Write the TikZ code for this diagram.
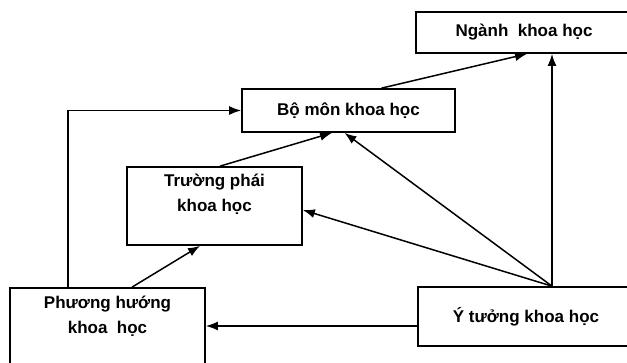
\documentclass[tikz,border=0pt]{standalone}
\usepackage{fontspec}
\setmainfont{Liberation Sans}
\usetikzlibrary{arrows.meta}

\begin{document}
\begin{tikzpicture}[
    x=1pt, y=-1pt,
    >={Latex[length=12pt,width=9pt]},
    every node/.style={font=\fontsize{17}{25}\selectfont\bfseries},
    box/.style={draw, line width=1.7pt, rectangle, align=center, inner sep=0pt},
    link/.style={line width=1.5pt}
]
\useasboundingbox (0,0) rectangle (627,362);
\clip (0,0) rectangle (627,362);

\node[box, minimum width=216pt, minimum height=41pt] (nganh) at (524,32.5) {Ngành\ \ khoa học};
\node[box, minimum width=213pt, minimum height=43pt] (bomon) at (348.5,110.5) {Bộ môn khoa học};
\node[box, minimum width=175pt, minimum height=78pt] (truong) at (214.5,206) {Trường phái\\khoa học\\[2pt]\mbox{}};
\node[box, minimum width=195pt, minimum height=104pt] (phuong) at (107.5,340) {Phương hướng\\khoa\ \ học\\[26pt]\mbox{}};
\node[box, minimum width=216pt, minimum height=59pt] (ytuong) at (526,316.5) {Ý tưởng khoa học};

\coordinate (apex) at ([xshift=26pt]ytuong.north);

\path[->, link]
([xshift=33pt]bomon.north) edge ([xshift=3pt]nganh.south)
(apex) edge (apex |- nganh.south)
(apex) edge ([xshift=-4pt]bomon.south)
(apex) edge ([yshift=-4pt]truong.east)
([xshift=5.5pt]truong.north) edge ([xshift=-16.5pt]bomon.south)
([xshift=24.5pt]phuong.north) edge ([xshift=-14.5pt]truong.south)
([yshift=-9.5pt]ytuong.west) edge ([yshift=-9.5pt]ytuong.west -| phuong.east);

\draw[->, link] ([xshift=-39.5pt]phuong.north) |- (bomon.west);

\end{tikzpicture}
\end{document}
